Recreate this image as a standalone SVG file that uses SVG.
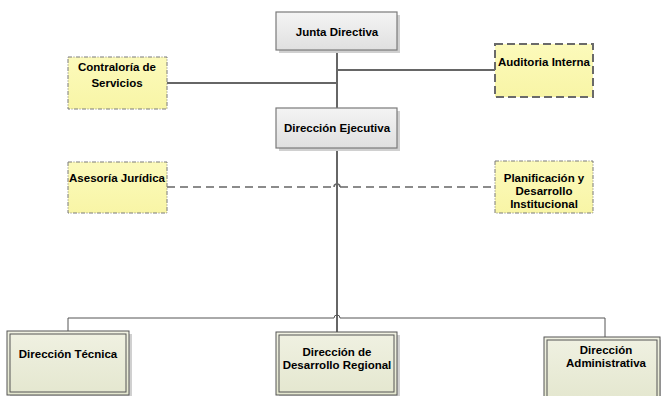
<svg xmlns="http://www.w3.org/2000/svg" width="661" height="396" viewBox="0 0 661 396">
<defs>
<linearGradient id="gray" x1="0" y1="0" x2="0" y2="1">
<stop offset="0" stop-color="#f4f4f4"/>
<stop offset="1" stop-color="#e0e0e0"/>
</linearGradient>
<linearGradient id="yel" x1="0" y1="0" x2="0" y2="1">
<stop offset="0" stop-color="#fcfabb"/>
<stop offset="1" stop-color="#f8f5a6"/>
</linearGradient>
<linearGradient id="grn" x1="0" y1="0" x2="0" y2="1">
<stop offset="0" stop-color="#f0f1e2"/>
<stop offset="1" stop-color="#e4e7cf"/>
</linearGradient>
</defs>
<style>
text{font-family:"Liberation Sans",Arial,sans-serif;font-weight:bold;font-size:11.5px;fill:#000;text-anchor:middle}
.sh{fill:#d0d0d0}
.gray{fill:url(#gray);stroke:#7a7a7a;stroke-width:1.2}
.yel{fill:url(#yel);stroke:#7a7a7a;stroke-width:1;stroke-dasharray:4 1.5 1 1.5}
.yel2{fill:url(#yel);stroke:#6a6a6a;stroke-width:2;stroke-dasharray:8 4}
.grn{fill:url(#grn);stroke:#555;stroke-width:1}
.inner{fill:none;stroke:#555;stroke-width:1}
.ln{fill:none;stroke:#666;stroke-width:2}
.dl{fill:none;stroke:#666;stroke-width:1.5;stroke-dasharray:8 5}
.th{fill:none;stroke:#555;stroke-width:1}
</style>
<g id="connectors">
<path class="ln" d="M337 50 V108"/>
<path class="ln" d="M337 70 H495"/>
<path class="ln" d="M167 83 H337"/>
<path class="ln" d="M337 148 V332"/>
<path class="dl" d="M167 187 H334"/>
<path class="ln" style="stroke-width:1.5" d="M334 187 A3 3 0 0 1 340 187"/>
<path class="dl" d="M340 187 H495"/>
<path class="th" d="M68 331 V318 H334 A3 3 0 0 1 340 318 H605 V337"/>
</g>
<g id="junta">
<rect class="sh" x="279" y="15" width="121" height="38"/>
<rect class="gray" x="276" y="12" width="121" height="38"/>
<text x="337" y="36">Junta Directiva</text>
</g>
<g id="ejecutiva">
<rect class="sh" x="279" y="111" width="121" height="40"/>
<rect class="gray" x="276" y="108" width="121" height="40"/>
<text x="337" y="132">Dirección Ejecutiva</text>
</g>
<g id="contraloria">
<rect class="yel" x="68" y="57" width="99" height="52"/>
<text x="117" y="71">Contraloría de</text>
<text x="117" y="87">Servicios</text>
</g>
<g id="auditoria">
<rect class="yel2" x="495" y="44" width="98" height="53"/>
<text x="544" y="66">Auditoria Interna</text>
</g>
<g id="asesoria">
<rect class="yel" x="68" y="162" width="99" height="51"/>
<text x="117" y="182">Asesoría Jurídica</text>
</g>
<g id="planificacion">
<rect class="yel" x="495" y="161" width="98" height="52"/>
<text x="544" y="182">Planificación y</text>
<text x="544" y="195">Desarrollo</text>
<text x="544" y="208">Institucional</text>
</g>
<g id="tecnica">
<rect class="sh" x="10" y="334" width="122" height="64"/>
<rect class="grn" x="7" y="331" width="122" height="64"/>
<rect class="inner" x="10" y="334" width="116" height="58"/>
<text x="68" y="358">Dirección Técnica</text>
</g>
<g id="regional">
<rect class="sh" x="279" y="335" width="121" height="63"/>
<rect class="grn" x="276" y="332" width="121" height="63"/>
<rect class="inner" x="279" y="335" width="115" height="57"/>
<text x="337" y="356">Dirección de</text>
<text x="337" y="369">Desarrollo Regional</text>
</g>
<g id="administrativa">
<rect class="sh" x="547" y="340" width="116" height="60"/>
<rect class="grn" x="544" y="337" width="116" height="62"/>
<rect class="inner" x="547" y="340" width="110" height="58"/>
<text x="606" y="354">Dirección</text>
<text x="606" y="367">Administrativa</text>
</g>
</svg>
